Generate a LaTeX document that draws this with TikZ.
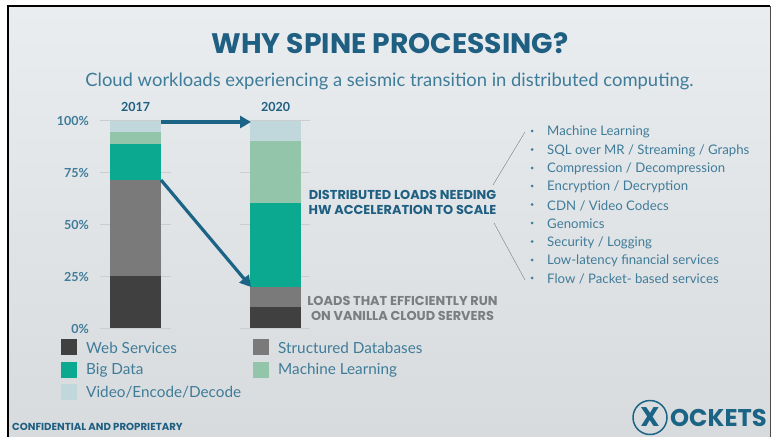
\documentclass[tikz,border=0pt]{standalone}
\usepackage{fontspec}
\setmainfont{Lato}
\newfontfamily\heavy{Poppins}
\usetikzlibrary{arrows.meta}
\definecolor{titleblue}{HTML}{1F5F82}
\definecolor{textblue}{HTML}{3F7C99}
\definecolor{arrowblue}{HTML}{1B6485}
\definecolor{cWeb}{HTML}{404040}
\definecolor{cDb}{HTML}{7A7A7A}
\definecolor{cBig}{HTML}{0BA98F}
\definecolor{cMl}{HTML}{93C5AA}
\definecolor{cVid}{HTML}{C0D8DB}
\definecolor{gridc}{HTML}{CBCED0}
\definecolor{graytxt}{HTML}{7B7D7F}
\definecolor{bgtop}{HTML}{E9EDF0}
\definecolor{bgbot}{HTML}{D8DBDD}
\tikzset{
 lbl/.style={inner sep=0pt, anchor=east, font=\fontsize{12.5}{14}\selectfont\bfseries, text=textblue},
 year/.style={inner sep=0pt, font=\fontsize{12.5}{14}\selectfont\bfseries, text=titleblue},
 grid line/.style={draw=gridc, line width=0.8pt},
 big arrow/.style={draw=arrowblue, line width=3.2pt, -{Triangle[length=11pt,width=12pt]}},
 leader/.style={draw=graytxt, line width=0.4pt},
 list item/.style={inner sep=0pt, anchor=west, yshift=-1pt, font=\fontsize{13.2}{14}\selectfont, text=textblue},
 bullet dot/.style={circle, fill=textblue, inner sep=0pt, minimum size=3pt},
 legend text/.style={inner sep=0pt, anchor=west, font=\fontsize{15.3}{16}\selectfont, text=textblue},
 swatch/.style={inner sep=0pt, minimum size=15.5pt, draw=none},
 callout/.style={inner sep=0pt, align=center, font=\heavy\fontsize{12.9}{15}\selectfont\bfseries},
}
\begin{document}
\begin{tikzpicture}[x=1pt,y=-1pt]
\useasboundingbox (0,0) rectangle (771,437);
\fill[white] (0,0) rectangle (771,437);
\shade[top color=bgtop, bottom color=bgbot] (8,6) rectangle (770,436);
\draw[black, line width=2pt] (8,6) -- (770,6);
\draw[black, line width=2pt] (8,5) -- (8,437);
\draw[black!70, line width=0.8pt] (770,6) -- (770,437);

\node[inner sep=0pt, text=titleblue, font=\heavy\fontsize{28.2}{30}\selectfont\bfseries] (title) at (390,43) {WHY SPINE PROCESSING?};
\node[inner sep=0pt, text=textblue, font=\fontsize{18.4}{22}\selectfont] (sub) at (389.5,81) {Cloud workloads experiencing a seismic transition in distributed computing.};

\foreach \yy in {120.5,172.5,224.5,276.5,328.3}{
  \draw[grid line] (100,\yy) -- (171,\yy);
  \draw[grid line] (240,\yy) -- (310,\yy);
}
\node[year] (y17) at (135.5,106.5) {2017};
\node[year] (y20) at (275.5,106.5) {2020};
\node[lbl] (p100) at (89,120.5) {100\%};
\node[lbl] (p75) at (89,172.5) {75\%};
\node[lbl] (p50) at (89,224.5) {50\%};
\node[lbl] (p25) at (89,276.5) {25\%};
\node[lbl] (p0) at (89,328.5) {0\%};

% 2017 bar
\fill[cVid] (109.5,120.5) rectangle (161,131.7);
\fill[cMl] (109.5,131.7) rectangle (161,144);
\fill[cBig] (109.5,144) rectangle (161,179.5);
\fill[cDb] (109.5,179.5) rectangle (161,276);
\fill[cWeb] (109.5,276) rectangle (161,328.3);
% 2020 bar
\fill[cVid] (250,120.5) rectangle (301,141);
\fill[cMl] (250,141) rectangle (301,203.3);
\fill[cBig] (250,203.3) rectangle (301,286.7);
\fill[cDb] (250,286.7) rectangle (301,307.3);
\fill[cWeb] (250,307.3) rectangle (301,328.3);

\coordinate (a1) at (161,122);
\coordinate (b1) at (251,122);
\coordinate (a2) at (161,180);
\coordinate (b2) at (251,287);
\draw[big arrow] (a1) -- (b1);
\draw[big arrow] (a2) -- (b2);

\node[callout, text=titleblue] (dist) at (402.5,202.5) {DISTRIBUTED LOADS NEEDING\\HW ACCELERATION TO SCALE};
\node[callout, text=graytxt] (van) at (402.5,308.5) {LOADS THAT EFFICIENTLY RUN\\ON VANILLA CLOUD SERVERS};

\coordinate (l1) at (493,185);
\coordinate (l2) at (525,132);
\coordinate (l3) at (494,223);
\coordinate (l4) at (525,280);
\draw[leader] (l1) -- (l2);
\draw[leader] (l3) -- (l4);

\foreach \yy/\tt [count=\i] in {131/{Machine Learning},149.5/{SQL over MR / Streaming / Graphs},168/{Compression / Decompression},186/{Encryption / Decryption},204.5/{CDN / Video Codecs},223/{Genomics},241.5/{Security / Logging},260/{Low-latency financial services},278/{Flow / Packet- based services}}{
  \node[bullet dot] (dot\i) at (532,\yy) {};
  \node[list item] (item\i) at (547,\yy) {\tt};
}

\node[swatch, fill=cWeb] (s1) at (69,347) {};
\node[legend text] (t1) at (86,347.5) {Web Services};
\node[swatch, fill=cBig] (s2) at (69,370) {};
\node[legend text] (t2) at (86,370) {Big Data};
\node[swatch, fill=cVid] (s3) at (69,392) {};
\node[legend text] (t3) at (86,392) {Video/Encode/Decode};
\node[swatch, fill=cDb] (s4) at (261,347) {};
\node[legend text] (t4) at (278,347.5) {Structured Databases};
\node[swatch, fill=cMl] (s5) at (261,370) {};
\node[legend text] (t5) at (278,370) {Machine Learning};

\node[inner sep=0pt, anchor=west, text=titleblue, font=\heavy\fontsize{10.2}{11}\selectfont\bfseries] (conf) at (12,427) {CONFIDENTIAL AND PROPRIETARY};

\draw[arrowblue, line width=1.5pt] (650,417.5) circle (17);
\node[inner sep=0pt, text=arrowblue, font=\heavy\fontsize{27}{30}\selectfont\bfseries] (logox) at (650,417) {X};
\node[inner sep=0pt, anchor=west, text=arrowblue, font=\heavy\fontsize{24.2}{26}\selectfont\bfseries] (logot) at (670,418) {OCKETS};
\end{tikzpicture}
\end{document}
